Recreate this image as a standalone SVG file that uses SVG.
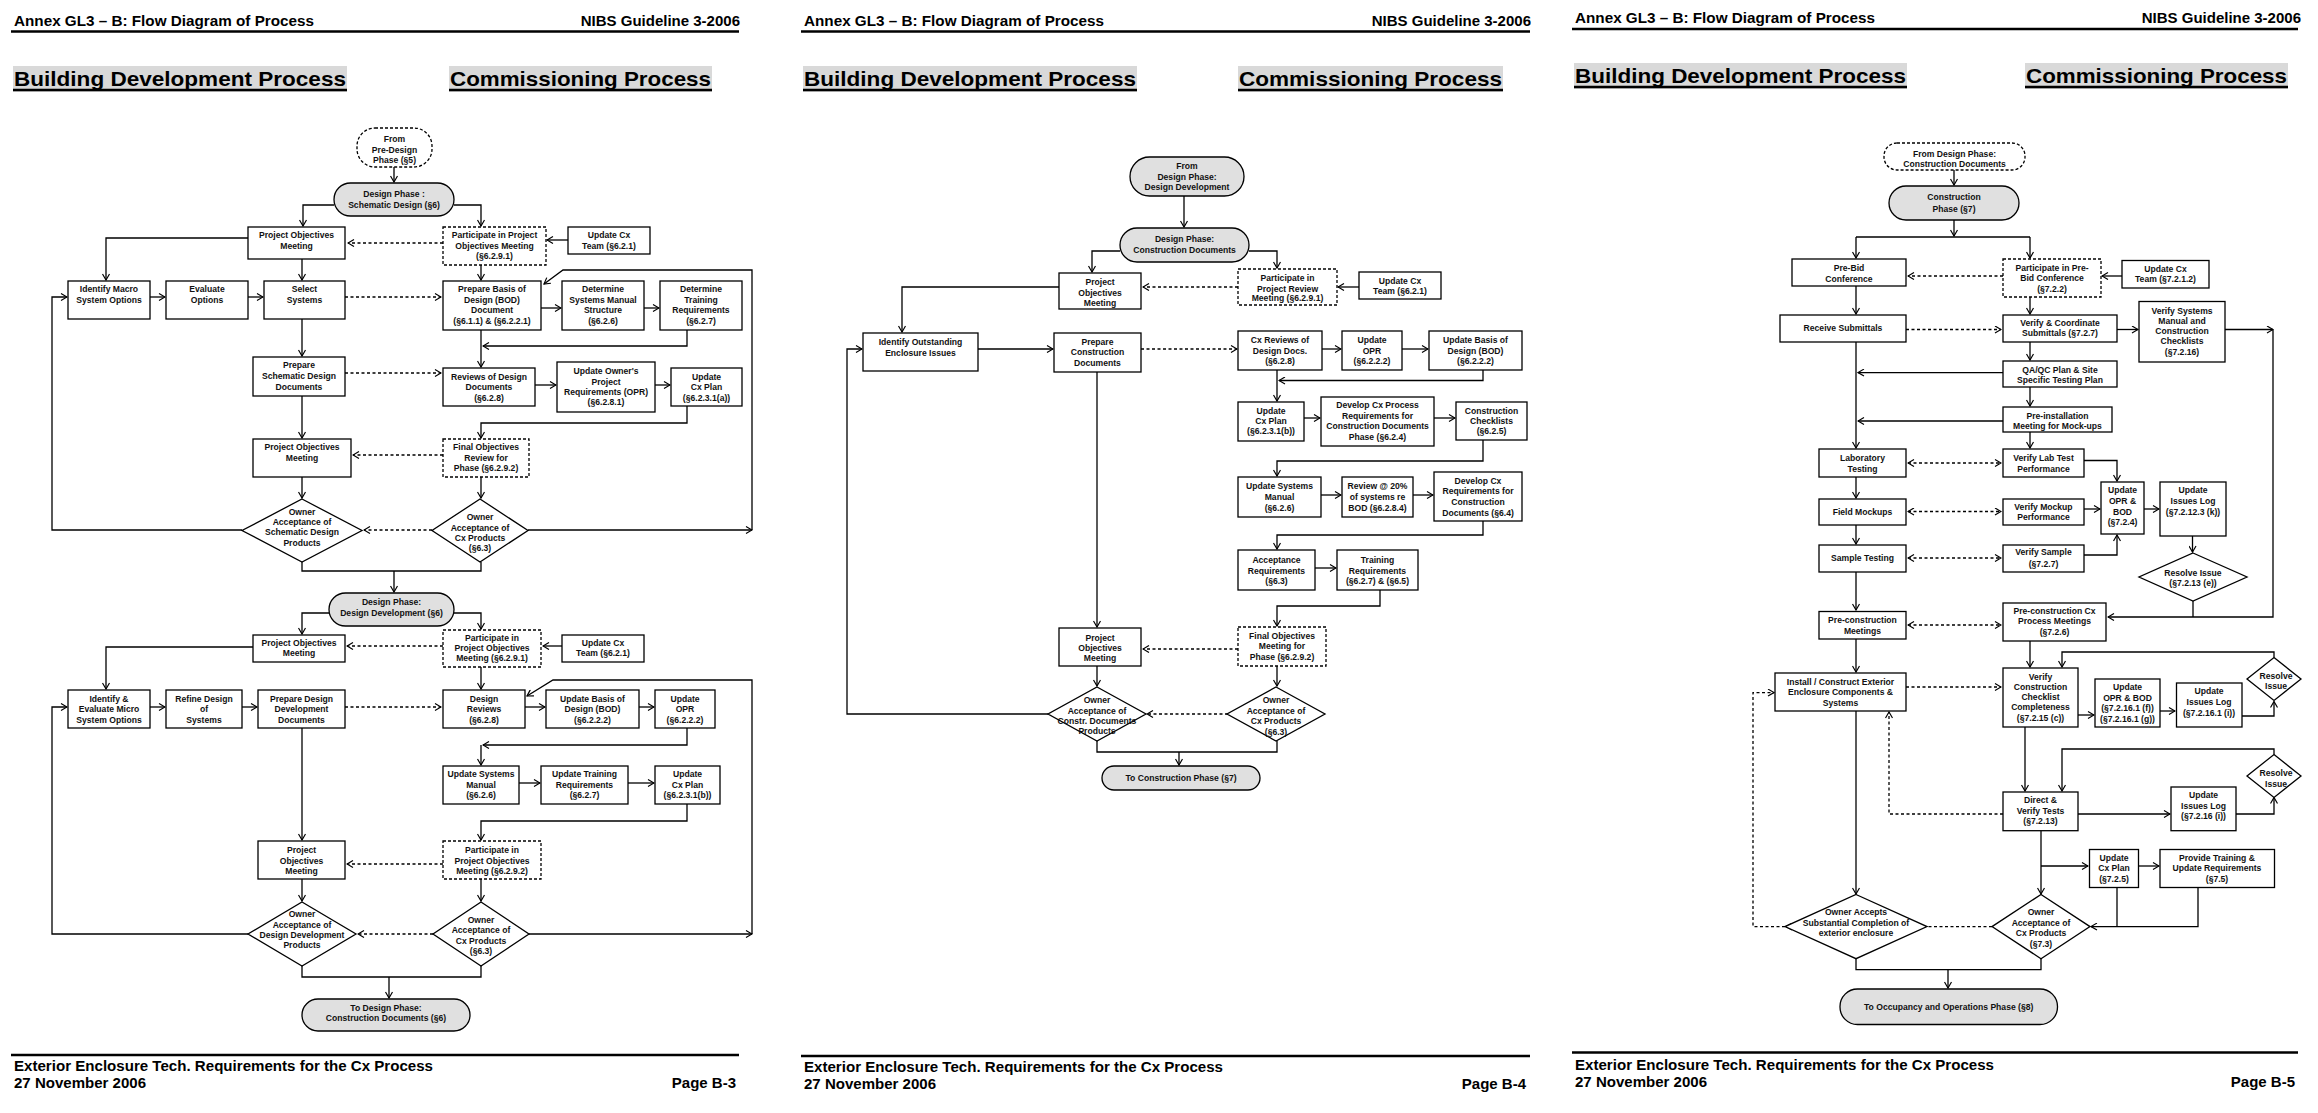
<svg xmlns="http://www.w3.org/2000/svg" width="2318" height="1113" viewBox="0 0 2318 1113">
<defs>
<marker id="a" markerWidth="8" markerHeight="8" refX="7" refY="4" orient="auto-start-reverse" markerUnits="userSpaceOnUse"><path d="M1,0.5 L7,4 L1,7.5" fill="none" stroke="#000" stroke-width="1.2"/></marker>
<style>
.n{fill:#fff;stroke:#000;stroke-width:1.3}
.d{fill:#fff;stroke:#000;stroke-width:1.3;stroke-dasharray:3,2}
.g{fill:#e0e0e0;stroke:#000;stroke-width:1.3}
.t{font-family:"Liberation Sans Narrow","Liberation Sans",Arial,sans-serif;font-weight:bold;font-size:8.6px;text-anchor:middle;fill:#111}
.c path{fill:none;stroke:#000;stroke-width:1.3;marker-end:url(#a)}
.c path.k{stroke-dasharray:3,2.5}
.c path.b{marker-start:url(#a)}
.c path.x{marker-end:none}
.h{font-family:"Liberation Sans Narrow","Liberation Sans",Arial,sans-serif;font-weight:bold;font-size:15px;fill:#000}
.T{font-family:"Liberation Sans",Arial,sans-serif;font-weight:bold;font-size:21px;fill:#000}
.hl{stroke:#000;stroke-width:2.5}
.tb{fill:#d9d9d9}
</style>
</defs>
<rect width="2318" height="1113" fill="#fff"/>

<g id="headers">
<text class="h" x="14" y="26" textLength="300" lengthAdjust="spacingAndGlyphs">Annex GL3 – B:  Flow Diagram of Process</text>
<text class="h" x="740" y="26" text-anchor="end">NIBS Guideline 3-2006</text>
<line class="hl" x1="11" y1="31.5" x2="739" y2="31.5"/>
<rect class="tb" x="13" y="66" width="334" height="26"/><text class="T" x="14" y="86" textLength="332" lengthAdjust="spacingAndGlyphs">Building Development Process</text><line class="hl" x1="13" y1="90" x2="347" y2="90"/>
<rect class="tb" x="449" y="66" width="263" height="26"/><text class="T" x="450" y="86" textLength="261" lengthAdjust="spacingAndGlyphs">Commissioning Process</text><line class="hl" x1="449" y1="90" x2="712" y2="90"/>
<line class="hl" x1="11" y1="1055" x2="739" y2="1055"/>
<text class="h" x="14" y="1071" textLength="419" lengthAdjust="spacingAndGlyphs">Exterior Enclosure Tech. Requirements for the Cx Process</text>
<text class="h" x="14" y="1088" textLength="132" lengthAdjust="spacingAndGlyphs">27 November 2006</text>
<text class="h" x="736" y="1088" text-anchor="end">Page B-3</text>

<text class="h" x="804" y="26" textLength="300" lengthAdjust="spacingAndGlyphs">Annex GL3 – B:  Flow Diagram of Process</text>
<text class="h" x="1531" y="26" text-anchor="end">NIBS Guideline 3-2006</text>
<line class="hl" x1="801" y1="31.5" x2="1530" y2="31.5"/>
<rect class="tb" x="803" y="66" width="334" height="26"/><text class="T" x="804" y="86" textLength="332" lengthAdjust="spacingAndGlyphs">Building Development Process</text><line class="hl" x1="803" y1="90" x2="1137" y2="90"/>
<rect class="tb" x="1238" y="66" width="265" height="26"/><text class="T" x="1239" y="86" textLength="263" lengthAdjust="spacingAndGlyphs">Commissioning Process</text><line class="hl" x1="1238" y1="90" x2="1503" y2="90"/>
<line class="hl" x1="801" y1="1056" x2="1530" y2="1056"/>
<text class="h" x="804" y="1072" textLength="419" lengthAdjust="spacingAndGlyphs">Exterior Enclosure Tech. Requirements for the Cx Process</text>
<text class="h" x="804" y="1089" textLength="132" lengthAdjust="spacingAndGlyphs">27 November 2006</text>
<text class="h" x="1526" y="1089" text-anchor="end">Page B-4</text>

<text class="h" x="1575" y="23" textLength="300" lengthAdjust="spacingAndGlyphs">Annex GL3 – B:  Flow Diagram of Process</text>
<text class="h" x="2301" y="23" text-anchor="end">NIBS Guideline 3-2006</text>
<line class="hl" x1="1572" y1="29" x2="2298" y2="29"/>
<rect class="tb" x="1574" y="63" width="333" height="26"/><text class="T" x="1575" y="83" textLength="331" lengthAdjust="spacingAndGlyphs">Building Development Process</text><line class="hl" x1="1574" y1="87" x2="1907" y2="87"/>
<rect class="tb" x="2025" y="63" width="263" height="26"/><text class="T" x="2026" y="83" textLength="261" lengthAdjust="spacingAndGlyphs">Commissioning Process</text><line class="hl" x1="2025" y1="87" x2="2288" y2="87"/>
<line class="hl" x1="1572" y1="1052.5" x2="2298" y2="1052.5"/>
<text class="h" x="1575" y="1069.5" textLength="419" lengthAdjust="spacingAndGlyphs">Exterior Enclosure Tech. Requirements for the Cx Process</text>
<text class="h" x="1575" y="1087" textLength="132" lengthAdjust="spacingAndGlyphs">27 November 2006</text>
<text class="h" x="2295" y="1087" text-anchor="end">Page B-5</text>
</g>

<g id="connectors" class="c">
<path d="M394,167 V182"/>
<path d="M334,205 H303 V226"/>
<path d="M454,205 H481 V226"/>
<path d="M568,240 H547"/>
<path class="k" d="M443,243 H348"/>
<path d="M248,238 H106 V280"/>
<path d="M302,259 V280"/>
<path d="M481,265 V280"/>
<path d="M150,297 H165"/><path d="M248,297 H263"/>
<path class="k" d="M345,297 H441"/>
<path d="M541,308 H561"/><path d="M644,308 H659"/>
<path d="M687,330 V346 H483"/>
<path d="M481,330 V367"/>
<path d="M302,319 V356"/>
<path class="k" d="M345,373 H441"/>
<path d="M535,385 H556"/><path d="M655,385 H670"/>
<path d="M687,406 V423 H481 V438"/>
<path d="M302,396 V438"/>
<path class="k" d="M443,455 H353"/>
<path d="M302,477 V498"/><path d="M481,477 V498"/>
<path class="k" d="M432,530 H364"/>
<path d="M242,530 H52 V297 H67"/>
<path d="M528,530 H752"/>
<path d="M752,530 V270 H563 L544,284"/>
<path class="x" d="M302,562 V571 H481 V562"/>
<path d="M394,571 V592"/>
<path d="M329,613 H302 V634"/>
<path d="M454,613 H481 V629"/>
<path d="M562,646 H543"/>
<path class="k" d="M443,646 H347"/>
<path d="M253,647 H106 V689"/>
<path d="M481,667 V689"/>
<path d="M150,707 H165"/><path d="M242,707 H257"/>
<path class="k" d="M345,707 H441"/>
<path d="M525,707 H545"/><path d="M639,707 H654"/>
<path d="M687,728 V745 H483"/>
<path d="M481,745 V765"/>
<path d="M519,783 H540"/><path d="M628,783 H654"/>
<path d="M687,804 V821 H481 V840"/>
<path d="M302,728 V840"/>
<path class="k" d="M443,864 H347"/>
<path d="M302,879 V901"/><path d="M481,879 V901"/>
<path class="k" d="M433,934 H358"/>
<path d="M248,934 H52 V707 H67"/>
<path d="M529,934 H752"/>
<path d="M752,934 V680 H553 L527,696"/>
<path class="x" d="M302,966 V977 H481 V966"/>
<path d="M389,977 V998"/>

<path d="M1184,196 V227"/>
<path d="M1120,251 H1092 V272"/>
<path d="M1249,251 H1277 V268"/>
<path d="M1359,287 H1338"/>
<path class="k" d="M1238,287 H1143"/>
<path d="M1059,287 H902 V332"/>
<path d="M978,349 H1053"/>
<path class="k" d="M1141,349 H1237"/>
<path d="M1322,349 H1341"/><path d="M1402,349 H1428"/>
<path d="M1483,370 V380.5 H1279"/>
<path d="M1277,370 V401"/>
<path d="M1304,418 H1320"/><path d="M1434,418 H1455"/>
<path d="M1483,440 V461 H1277 V476"/>
<path d="M1321,495 H1341"/><path d="M1413,495 H1433"/>
<path d="M1483,521 V535 H1277 V549"/>
<path d="M1315,568 H1336"/>
<path d="M1380,590 V606 H1277 V626"/>
<path d="M1097,372 V627"/>
<path class="k" d="M1238,649 H1143"/>
<path d="M1097,666 V686"/><path d="M1277,666 V686"/>
<path class="k" d="M1228,714 H1147"/>
<path d="M1048,714 H847 V349 H862"/>
<path class="x" d="M1097,741 V752 H1277 V741"/>
<path d="M1179,752 V765"/>

<path d="M1954,170 V185"/>
<path d="M1954,220 V236"/>
<path class="x" d="M1856,237 H2030"/>
<path d="M1856,237 V258"/><path d="M2030,237 V258"/>
<path d="M2122,276 H2102"/>
<path class="k" d="M2003,276 H1908"/>
<path d="M1856,286 V314"/>
<path d="M2030,297 V314"/>
<path class="k" d="M1906,329.5 H2001"/>
<path d="M2117,329.5 H2138"/>
<path d="M2225,329.5 H2273"/>
<path d="M2273,329.5 V617 H2108"/>
<path d="M2030,342 V360"/>
<path d="M2003,372.6 H1858"/>
<path d="M1856,342 V448"/>
<path d="M2030,387 V406"/>
<path d="M2003,421 H1858"/>
<path d="M2030,432 V448"/>
<path class="k b" d="M1908,463 H2001"/>
<path d="M2084,460.5 H2117 V481"/>
<path d="M1856,477 V498"/>
<path class="k b" d="M1908,511.5 H2001"/>
<path d="M2084,509 H2100"/>
<path d="M2144,509 H2159"/>
<path d="M1856,525 V544"/>
<path class="k b" d="M1908,558 H2001"/>
<path d="M2084,555 H2117 V535"/>
<path d="M2192.5,536 V552"/>
<path class="x" d="M2193,601 V617"/>
<path d="M1856,572 V610"/>
<path class="k b" d="M1908,625 H2001"/>
<path d="M1856,639 V672"/>
<path d="M2030,641 V667"/>
<path class="k" d="M1906,687 H2001"/>
<path d="M2078,715 H2094"/>
<path d="M2160,711 H2175"/>
<path d="M2242,716 H2274 V701.5"/>
<path d="M2274,657.5 V652 H2062 V667"/>
<path d="M2025,727 V791"/>
<path d="M2078,814 H2170"/>
<path d="M2236,814 H2274 V797.5"/>
<path d="M2274,754.5 V749 H2062 V791"/>
<path class="k" d="M2003,814 H1889 V712"/>
<path d="M2041,830.7 V894"/>
<path d="M2041,866 H2088"/>
<path d="M2138.6,866 H2159"/>
<path class="x" d="M2117,887.5 V926.6"/>
<path d="M2198,887.5 V926.6 H2091"/>
<path d="M1856,711 V894"/>
<path class="k" d="M1992,926.6 H1786"/>
<path class="k" d="M1785,926.6 H1753 V692.6 H1774"/>
<path class="x" d="M1856,958.6 V969.7 H2041 V958.6"/>
<path d="M1948,969.7 V988"/>
</g>

<!-- PAGE 1 -->
<g id="p1-from"><rect class="d" x="357" y="128" width="75" height="39" rx="18"/><text class="t"><tspan x="394.5" y="142">From</tspan><tspan x="394.5" y="153">Pre-Design</tspan><tspan x="394.5" y="163">Phase (§5)</tspan></text></g>
<g id="p1-sd"><rect class="g" x="334" y="183" width="120" height="33" rx="16.5"/><text class="t"><tspan x="394" y="197">Design Phase :</tspan><tspan x="394" y="208">Schematic Design  (§6)</tspan></text></g>
<g id="p1-pom1"><rect class="n" x="248" y="227" width="97" height="32"/><text class="t"><tspan x="296.5" y="238">Project Objectives</tspan><tspan x="296.5" y="249">Meeting</tspan></text></g>
<g id="p1-part1"><rect class="d" x="443" y="227" width="103" height="38"/><text class="t"><tspan x="494.5" y="238">Participate in Project</tspan><tspan x="494.5" y="248.5">Objectives Meeting</tspan><tspan x="494.5" y="259">(§6.2.9.1)</tspan></text></g>
<g id="p1-team1"><rect class="n" x="568" y="227" width="82" height="27"/><text class="t"><tspan x="609" y="238">Update Cx</tspan><tspan x="609" y="249">Team (§6.2.1)</tspan></text></g>
<g id="p1-macro"><rect class="n" x="68" y="281" width="82" height="38"/><text class="t"><tspan x="109" y="292">Identify Macro</tspan><tspan x="109" y="303">System Options</tspan></text></g>
<g id="p1-eval"><rect class="n" x="166" y="281" width="82" height="38"/><text class="t"><tspan x="207" y="292">Evaluate</tspan><tspan x="207" y="303">Options</tspan></text></g>
<g id="p1-select"><rect class="n" x="264" y="281" width="81" height="38"/><text class="t"><tspan x="304.5" y="292">Select</tspan><tspan x="304.5" y="303">Systems</tspan></text></g>
<g id="p1-bod"><rect class="n" x="443" y="281" width="98" height="49"/><text class="t"><tspan x="492" y="292">Prepare Basis of</tspan><tspan x="492" y="303">Design (BOD)</tspan><tspan x="492" y="313">Document</tspan><tspan x="492" y="324">(§6.1.1) &amp; (§6.2.2.1)</tspan></text></g>
<g id="p1-dsm"><rect class="n" x="562" y="281" width="82" height="49"/><text class="t"><tspan x="603" y="292">Determine</tspan><tspan x="603" y="303">Systems Manual</tspan><tspan x="603" y="313">Structure</tspan><tspan x="603" y="324">(§6.2.6)</tspan></text></g>
<g id="p1-dtr"><rect class="n" x="660" y="281" width="82" height="49"/><text class="t"><tspan x="701" y="292">Determine</tspan><tspan x="701" y="303">Training</tspan><tspan x="701" y="313">Requirements</tspan><tspan x="701" y="324">(§6.2.7)</tspan></text></g>
<g id="p1-psd"><rect class="n" x="253" y="357" width="92" height="39"/><text class="t"><tspan x="299" y="368">Prepare</tspan><tspan x="299" y="379">Schematic Design</tspan><tspan x="299" y="390">Documents</tspan></text></g>
<g id="p1-rev"><rect class="n" x="443" y="368" width="92" height="38"/><text class="t"><tspan x="489" y="380">Reviews of Design</tspan><tspan x="489" y="390">Documents</tspan><tspan x="489" y="401">(§6.2.8)</tspan></text></g>
<g id="p1-opr"><rect class="n" x="557" y="362" width="98" height="50"/><text class="t"><tspan x="606" y="374">Update Owner's</tspan><tspan x="606" y="385">Project</tspan><tspan x="606" y="395">Requirements (OPR)</tspan><tspan x="606" y="405">(§6.2.8.1)</tspan></text></g>
<g id="p1-cxp"><rect class="n" x="671" y="368" width="71" height="38"/><text class="t"><tspan x="706.5" y="380">Update</tspan><tspan x="706.5" y="390">Cx Plan</tspan><tspan x="706.5" y="401">(§6.2.3.1(a))</tspan></text></g>
<g id="p1-pom2"><rect class="n" x="253" y="439" width="98" height="38"/><text class="t"><tspan x="302" y="450">Project Objectives</tspan><tspan x="302" y="461">Meeting</tspan></text></g>
<g id="p1-final"><rect class="d" x="443" y="439" width="86" height="38"/><text class="t"><tspan x="486" y="450">Final Objectives</tspan><tspan x="486" y="461">Review for</tspan><tspan x="486" y="471">Phase (§6.2.9.2)</tspan></text></g>
<g id="p1-d1"><path class="n" d="M302,499 L362,530.5 L302,562 L242,530.5 Z"/><text class="t"><tspan x="302" y="515">Owner</tspan><tspan x="302" y="525">Acceptance of</tspan><tspan x="302" y="535">Schematic Design</tspan><tspan x="302" y="546">Products</tspan></text></g>
<g id="p1-d2"><path class="n" d="M480,499 L528,530.5 L480,562 L432,530.5 Z"/><text class="t"><tspan x="480" y="520">Owner</tspan><tspan x="480" y="531">Acceptance of</tspan><tspan x="480" y="541">Cx Products</tspan><tspan x="480" y="551">(§6.3)</tspan></text></g>
<g id="p1-dd"><rect class="g" x="329" y="593" width="125" height="33" rx="16.5"/><text class="t"><tspan x="391.5" y="605">Design Phase:</tspan><tspan x="391.5" y="616">Design Development  (§6)</tspan></text></g>
<g id="p1-pom3"><rect class="n" x="253" y="635" width="92" height="27"/><text class="t"><tspan x="299" y="646">Project Objectives</tspan><tspan x="299" y="656">Meeting</tspan></text></g>
<g id="p1-part2"><rect class="d" x="443" y="630" width="98" height="37"/><text class="t"><tspan x="492" y="641">Participate in</tspan><tspan x="492" y="651">Project Objectives</tspan><tspan x="492" y="661">Meeting (§6.2.9.1)</tspan></text></g>
<g id="p1-team2"><rect class="n" x="562" y="635" width="82" height="27"/><text class="t"><tspan x="603" y="646">Update Cx</tspan><tspan x="603" y="656">Team (§6.2.1)</tspan></text></g>
<g id="p1-micro"><rect class="n" x="68" y="690" width="82" height="38"/><text class="t"><tspan x="109" y="702">Identify &amp;</tspan><tspan x="109" y="712">Evaluate Micro</tspan><tspan x="109" y="723">System Options</tspan></text></g>
<g id="p1-refine"><rect class="n" x="166" y="690" width="76" height="38"/><text class="t"><tspan x="204" y="702">Refine Design</tspan><tspan x="204" y="712">of</tspan><tspan x="204" y="723">Systems</tspan></text></g>
<g id="p1-pdd"><rect class="n" x="258" y="690" width="87" height="38"/><text class="t"><tspan x="301.5" y="702">Prepare Design</tspan><tspan x="301.5" y="712">Development</tspan><tspan x="301.5" y="723">Documents</tspan></text></g>
<g id="p1-drev"><rect class="n" x="443" y="690" width="82" height="38"/><text class="t"><tspan x="484" y="702">Design</tspan><tspan x="484" y="712">Reviews</tspan><tspan x="484" y="723">(§6.2.8)</tspan></text></g>
<g id="p1-ubod"><rect class="n" x="546" y="690" width="93" height="38"/><text class="t"><tspan x="592.5" y="702">Update Basis of</tspan><tspan x="592.5" y="712">Design (BOD)</tspan><tspan x="592.5" y="723">(§6.2.2.2)</tspan></text></g>
<g id="p1-uopr"><rect class="n" x="655" y="690" width="60" height="38"/><text class="t"><tspan x="685" y="702">Update</tspan><tspan x="685" y="712">OPR</tspan><tspan x="685" y="723">(§6.2.2.2)</tspan></text></g>
<g id="p1-usm"><rect class="n" x="443" y="766" width="76" height="38"/><text class="t"><tspan x="481" y="777">Update Systems</tspan><tspan x="481" y="788">Manual</tspan><tspan x="481" y="798">(§6.2.6)</tspan></text></g>
<g id="p1-utr"><rect class="n" x="541" y="766" width="87" height="38"/><text class="t"><tspan x="584.5" y="777">Update Training</tspan><tspan x="584.5" y="788">Requirements</tspan><tspan x="584.5" y="798">(§6.2.7)</tspan></text></g>
<g id="p1-ucx"><rect class="n" x="655" y="766" width="65" height="38"/><text class="t"><tspan x="687.5" y="777">Update</tspan><tspan x="687.5" y="788">Cx Plan</tspan><tspan x="687.5" y="798">(§6.2.3.1(b))</tspan></text></g>
<g id="p1-pom4"><rect class="n" x="258" y="841" width="87" height="38"/><text class="t"><tspan x="301.5" y="853">Project</tspan><tspan x="301.5" y="864">Objectives</tspan><tspan x="301.5" y="874">Meeting</tspan></text></g>
<g id="p1-part3"><rect class="d" x="443" y="841" width="98" height="38"/><text class="t"><tspan x="492" y="853">Participate in</tspan><tspan x="492" y="864">Project Objectives</tspan><tspan x="492" y="874">Meeting (§6.2.9.2)</tspan></text></g>
<g id="p1-d3"><path class="n" d="M302,902 L356,934 L302,966 L248,934 Z"/><text class="t"><tspan x="302" y="917">Owner</tspan><tspan x="302" y="928">Acceptance of</tspan><tspan x="302" y="938">Design Development</tspan><tspan x="302" y="948">Products</tspan></text></g>
<g id="p1-d4"><path class="n" d="M481,902 L529,934 L481,966 L433,934 Z"/><text class="t"><tspan x="481" y="923">Owner</tspan><tspan x="481" y="933">Acceptance of</tspan><tspan x="481" y="944">Cx Products</tspan><tspan x="481" y="954">(§6.3)</tspan></text></g>
<g id="p1-to"><rect class="g" x="302" y="999" width="168" height="32" rx="16"/><text class="t"><tspan x="386" y="1011">To Design Phase:</tspan><tspan x="386" y="1021">Construction Documents  (§6)</tspan></text></g>

<!-- PAGE 2 -->
<g id="p2-from"><rect class="g" x="1130" y="157" width="114" height="39" rx="19.5"/><text class="t"><tspan x="1187" y="169">From</tspan><tspan x="1187" y="180">Design Phase:</tspan><tspan x="1187" y="190">Design Development</tspan></text></g>
<g id="p2-cd"><rect class="g" x="1120" y="228" width="129" height="34" rx="17"/><text class="t"><tspan x="1184.5" y="242">Design Phase:</tspan><tspan x="1184.5" y="253">Construction Documents</tspan></text></g>
<g id="p2-pom1"><rect class="n" x="1059" y="273" width="82" height="36"/><text class="t"><tspan x="1100" y="285">Project</tspan><tspan x="1100" y="295.5">Objectives</tspan><tspan x="1100" y="306">Meeting</tspan></text></g>
<g id="p2-part"><rect class="d" x="1238" y="269" width="99" height="36"/><text class="t"><tspan x="1287.5" y="281">Participate in</tspan><tspan x="1287.5" y="292">Project Review</tspan><tspan x="1287.5" y="301">Meeting (§6.2.9.1)</tspan></text></g>
<g id="p2-team"><rect class="n" x="1359" y="272" width="82" height="27"/><text class="t"><tspan x="1400" y="284">Update Cx</tspan><tspan x="1400" y="294">Team (§6.2.1)</tspan></text></g>
<g id="p2-ident"><rect class="n" x="863" y="333" width="115" height="38"/><text class="t"><tspan x="920.5" y="345">Identify Outstanding</tspan><tspan x="920.5" y="356">Enclosure Issues</tspan></text></g>
<g id="p2-prep"><rect class="n" x="1054" y="333" width="87" height="39"/><text class="t"><tspan x="1097.5" y="345">Prepare</tspan><tspan x="1097.5" y="355">Construction</tspan><tspan x="1097.5" y="366">Documents</tspan></text></g>
<g id="p2-cxr"><rect class="n" x="1238" y="331" width="84" height="39"/><text class="t"><tspan x="1280" y="343">Cx Reviews of</tspan><tspan x="1280" y="354">Design Docs.</tspan><tspan x="1280" y="364">(§6.2.8)</tspan></text></g>
<g id="p2-opr"><rect class="n" x="1342" y="331" width="60" height="39"/><text class="t"><tspan x="1372" y="343">Update</tspan><tspan x="1372" y="354">OPR</tspan><tspan x="1372" y="364">(§6.2.2.2)</tspan></text></g>
<g id="p2-bod"><rect class="n" x="1429" y="331" width="93" height="39"/><text class="t"><tspan x="1475.5" y="343">Update Basis of</tspan><tspan x="1475.5" y="354">Design (BOD)</tspan><tspan x="1475.5" y="364">(§6.2.2.2)</tspan></text></g>
<g id="p2-cxp"><rect class="n" x="1238" y="402" width="66" height="39"/><text class="t"><tspan x="1271" y="414">Update</tspan><tspan x="1271" y="424">Cx Plan</tspan><tspan x="1271" y="434">(§6.2.3.1(b))</tspan></text></g>
<g id="p2-dev"><rect class="n" x="1321" y="397" width="113" height="49"/><text class="t"><tspan x="1377.5" y="408">Develop Cx Process</tspan><tspan x="1377.5" y="419">Requirements for</tspan><tspan x="1377.5" y="429">Construction Documents</tspan><tspan x="1377.5" y="439.5">Phase (§6.2.4)</tspan></text></g>
<g id="p2-chk"><rect class="n" x="1456" y="402" width="71" height="38"/><text class="t"><tspan x="1491.5" y="414">Construction</tspan><tspan x="1491.5" y="424">Checklists</tspan><tspan x="1491.5" y="434">(§6.2.5)</tspan></text></g>
<g id="p2-usm"><rect class="n" x="1238" y="477" width="83" height="40"/><text class="t"><tspan x="1279.5" y="489">Update Systems</tspan><tspan x="1279.5" y="500">Manual</tspan><tspan x="1279.5" y="511">(§6.2.6)</tspan></text></g>
<g id="p2-rev20"><rect class="n" x="1342" y="477" width="71" height="40"/><text class="t"><tspan x="1377.5" y="489">Review @ 20%</tspan><tspan x="1377.5" y="500">of systems re</tspan><tspan x="1377.5" y="511">BOD  (§6.2.8.4)</tspan></text></g>
<g id="p2-devreq"><rect class="n" x="1434" y="472" width="88" height="49"/><text class="t"><tspan x="1478" y="484">Develop Cx</tspan><tspan x="1478" y="494">Requirements for</tspan><tspan x="1478" y="505">Construction</tspan><tspan x="1478" y="515.5">Documents (§6.4)</tspan></text></g>
<g id="p2-acc"><rect class="n" x="1238" y="550" width="77" height="40"/><text class="t"><tspan x="1276.5" y="562.5">Acceptance</tspan><tspan x="1276.5" y="573.5">Requirements</tspan><tspan x="1276.5" y="584">(§6.3)</tspan></text></g>
<g id="p2-tr"><rect class="n" x="1337" y="550" width="81" height="40"/><text class="t"><tspan x="1377.5" y="562.5">Training</tspan><tspan x="1377.5" y="573.5">Requirements</tspan><tspan x="1377.5" y="584">(§6.2.7) &amp; (§6.5)</tspan></text></g>
<g id="p2-final"><rect class="d" x="1238" y="627" width="88" height="39"/><text class="t"><tspan x="1282" y="639">Final Objectives</tspan><tspan x="1282" y="649">Meeting for</tspan><tspan x="1282" y="659.5">Phase (§6.2.9.2)</tspan></text></g>
<g id="p2-pom2"><rect class="n" x="1059" y="628" width="82" height="38"/><text class="t"><tspan x="1100" y="641">Project</tspan><tspan x="1100" y="651">Objectives</tspan><tspan x="1100" y="661">Meeting</tspan></text></g>
<g id="p2-d1"><path class="n" d="M1097,687 L1146,714 L1097,741 L1048,714 Z"/><text class="t"><tspan x="1097" y="703">Owner</tspan><tspan x="1097" y="713.5">Acceptance of</tspan><tspan x="1097" y="724">Constr. Documents</tspan><tspan x="1097" y="734">Products</tspan></text></g>
<g id="p2-d2"><path class="n" d="M1276,687 L1325,714 L1276,741 L1227,714 Z"/><text class="t"><tspan x="1276" y="703">Owner</tspan><tspan x="1276" y="713.5">Acceptance of</tspan><tspan x="1276" y="724">Cx Products</tspan><tspan x="1276" y="735">(§6.3)</tspan></text></g>
<g id="p2-to"><rect class="g" x="1102" y="766" width="158" height="24" rx="12"/><text class="t"><tspan x="1181" y="781">To Construction Phase (§7)</tspan></text></g>

<!-- PAGE 3 -->
<g id="p3-from"><rect class="d" x="1884" y="143" width="141" height="27" rx="13"/><text class="t"><tspan x="1954.5" y="157">From Design Phase:</tspan><tspan x="1954.5" y="167">Construction Documents</tspan></text></g>
<g id="p3-cp"><rect class="g" x="1889" y="186" width="130" height="34" rx="17"/><text class="t"><tspan x="1954" y="200">Construction</tspan><tspan x="1954" y="211.5">Phase  (§7)</tspan></text></g>
<g id="p3-prebid"><rect class="n" x="1792" y="259" width="114" height="27"/><text class="t"><tspan x="1849" y="271">Pre-Bid</tspan><tspan x="1849" y="281.5">Conference</tspan></text></g>
<g id="p3-part"><rect class="d" x="2003" y="259" width="98" height="38"/><text class="t"><tspan x="2052" y="271">Participate in Pre-</tspan><tspan x="2052" y="281">Bid Conference</tspan><tspan x="2052" y="291.5">(§7.2.2)</tspan></text></g>
<g id="p3-team"><rect class="n" x="2122" y="260.5" width="87" height="27.5"/><text class="t"><tspan x="2165.5" y="272">Update Cx</tspan><tspan x="2165.5" y="282">Team (§7.2.1.2)</tspan></text></g>
<g id="p3-recv"><rect class="n" x="1780" y="315" width="126" height="27"/><text class="t"><tspan x="1843" y="330.5">Receive Submittals</tspan></text></g>
<g id="p3-vcs"><rect class="n" x="2003" y="315" width="114" height="27"/><text class="t"><tspan x="2060" y="326">Verify &amp; Coordinate</tspan><tspan x="2060" y="336">Submittals (§7.2.7)</tspan></text></g>
<g id="p3-vsm"><rect class="n" x="2139" y="301.5" width="86" height="60.5"/><text class="t"><tspan x="2182" y="313.5">Verify Systems</tspan><tspan x="2182" y="324">Manual and</tspan><tspan x="2182" y="333.5">Construction</tspan><tspan x="2182" y="344">Checklists</tspan><tspan x="2182" y="355">(§7.2.16)</tspan></text></g>
<g id="p3-qa"><rect class="n" x="2003" y="361" width="114" height="26"/><text class="t"><tspan x="2060" y="373">QA/QC Plan &amp; Site</tspan><tspan x="2060" y="383">Specific Testing Plan</tspan></text></g>
<g id="p3-preinst"><rect class="n" x="2003" y="407" width="109" height="25"/><text class="t"><tspan x="2057.5" y="418.5">Pre-installation</tspan><tspan x="2057.5" y="429">Meeting for Mock-ups</tspan></text></g>
<g id="p3-lab"><rect class="n" x="1819" y="449" width="87" height="28"/><text class="t"><tspan x="1862.5" y="461">Laboratory</tspan><tspan x="1862.5" y="472">Testing</tspan></text></g>
<g id="p3-vlab"><rect class="n" x="2003" y="449" width="81" height="28"/><text class="t"><tspan x="2043.5" y="461">Verify Lab Test</tspan><tspan x="2043.5" y="472">Performance</tspan></text></g>
<g id="p3-uopr"><rect class="n" x="2101" y="482" width="43" height="52"/><text class="t"><tspan x="2122.5" y="493">Update</tspan><tspan x="2122.5" y="504">OPR &amp;</tspan><tspan x="2122.5" y="514.5">BOD</tspan><tspan x="2122.5" y="525">(§7.2.4)</tspan></text></g>
<g id="p3-ulog"><rect class="n" x="2160" y="482" width="66" height="54"/><text class="t"><tspan x="2193" y="493">Update</tspan><tspan x="2193" y="504">Issues Log</tspan><tspan x="2193" y="514.5">(§7.2.12.3 (k))</tspan></text></g>
<g id="p3-field"><rect class="n" x="1819" y="499" width="87" height="26"/><text class="t"><tspan x="1862.5" y="515">Field Mockups</tspan></text></g>
<g id="p3-vmock"><rect class="n" x="2003" y="499" width="81" height="26"/><text class="t"><tspan x="2043.5" y="510">Verify Mockup</tspan><tspan x="2043.5" y="520">Performance</tspan></text></g>
<g id="p3-sample"><rect class="n" x="1819" y="545" width="87" height="27"/><text class="t"><tspan x="1862.5" y="561">Sample Testing</tspan></text></g>
<g id="p3-vsample"><rect class="n" x="2003" y="545" width="81" height="27"/><text class="t"><tspan x="2043.5" y="555">Verify Sample</tspan><tspan x="2043.5" y="567">(§7.2.7)</tspan></text></g>
<g id="p3-res1"><path class="n" d="M2193,553 L2247,577 L2193,601 L2139,577 Z"/><text class="t"><tspan x="2193" y="575.5">Resolve Issue</tspan><tspan x="2193" y="586">(§7.2.13 (e))</tspan></text></g>
<g id="p3-precx"><rect class="n" x="2003" y="603" width="103" height="38"/><text class="t"><tspan x="2054.5" y="614">Pre-construction Cx</tspan><tspan x="2054.5" y="624">Process Meetings</tspan><tspan x="2054.5" y="635">(§7.2.6)</tspan></text></g>
<g id="p3-premt"><rect class="n" x="1819" y="611.5" width="87" height="27.5"/><text class="t"><tspan x="1862.5" y="623">Pre-construction</tspan><tspan x="1862.5" y="634">Meetings</tspan></text></g>
<g id="p3-install"><rect class="n" x="1775" y="673" width="131" height="38"/><text class="t"><tspan x="1840.5" y="684.5">Install / Construct Exterior</tspan><tspan x="1840.5" y="695">Enclosure Components  &amp;</tspan><tspan x="1840.5" y="706">Systems</tspan></text></g>
<g id="p3-vcc"><rect class="n" x="2003" y="668" width="75" height="59"/><text class="t"><tspan x="2040.5" y="679.5">Verify</tspan><tspan x="2040.5" y="689.7">Construction</tspan><tspan x="2040.5" y="700">Checklist</tspan><tspan x="2040.5" y="710.4">Completeness</tspan><tspan x="2040.5" y="721">(§7.2.15 (c))</tspan></text></g>
<g id="p3-uob"><rect class="n" x="2095" y="679" width="65" height="48"/><text class="t"><tspan x="2127.5" y="690">Update</tspan><tspan x="2127.5" y="700.6">OPR &amp; BOD</tspan><tspan x="2127.5" y="711">(§7.2.16.1 (f))</tspan><tspan x="2127.5" y="722">(§7.2.16.1 (g))</tspan></text></g>
<g id="p3-ulog2"><rect class="n" x="2176.5" y="683" width="65.5" height="44"/><text class="t"><tspan x="2209" y="694">Update</tspan><tspan x="2209" y="705">Issues Log</tspan><tspan x="2209" y="715.5">(§7.2.16.1 (i))</tspan></text></g>
<g id="p3-res2"><path class="n" d="M2274,657.5 L2301,679 L2274,700.5 L2247,679 Z"/><text class="t"><tspan x="2276" y="678.7">Resolve</tspan><tspan x="2276" y="689.3">Issue</tspan></text></g>
<g id="p3-dvt"><rect class="n" x="2003" y="792" width="75" height="38.7"/><text class="t"><tspan x="2040.5" y="803">Direct &amp;</tspan><tspan x="2040.5" y="814">Verify Tests</tspan><tspan x="2040.5" y="824">(§7.2.13)</tspan></text></g>
<g id="p3-ulog3"><rect class="n" x="2171" y="787" width="65" height="43.7"/><text class="t"><tspan x="2203.5" y="798">Update</tspan><tspan x="2203.5" y="808.7">Issues Log</tspan><tspan x="2203.5" y="819">(§7.2.16 (i))</tspan></text></g>
<g id="p3-res3"><path class="n" d="M2274,754.5 L2301,776 L2274,797.5 L2247,776 Z"/><text class="t"><tspan x="2276" y="776">Resolve</tspan><tspan x="2276" y="787">Issue</tspan></text></g>
<g id="p3-ucx"><rect class="n" x="2089.5" y="849.5" width="49" height="38"/><text class="t"><tspan x="2114" y="861">Update</tspan><tspan x="2114" y="871">Cx Plan</tspan><tspan x="2114" y="882">(§7.2.5)</tspan></text></g>
<g id="p3-ptr"><rect class="n" x="2160" y="849.5" width="114.5" height="38"/><text class="t"><tspan x="2217" y="861">Provide Training &amp;</tspan><tspan x="2217" y="871">Update Requirements</tspan><tspan x="2217" y="882">(§7.5)</tspan></text></g>
<g id="p3-d1"><path class="n" d="M1856,894.5 L1927,926.6 L1856,958.7 L1785,926.6 Z"/><text class="t"><tspan x="1856" y="915">Owner Accepts</tspan><tspan x="1856" y="925.7">Substantial Completion of</tspan><tspan x="1856" y="936">exterior enclosure</tspan></text></g>
<g id="p3-d2"><path class="n" d="M2041,894.5 L2090,926.6 L2041,958.7 L1992,926.6 Z"/><text class="t"><tspan x="2041" y="915">Owner</tspan><tspan x="2041" y="925.7">Acceptance of</tspan><tspan x="2041" y="936">Cx Products</tspan><tspan x="2041" y="947">(§7.3)</tspan></text></g>
<g id="p3-to"><rect class="g" x="1840" y="989" width="217.5" height="35.5" rx="17.5"/><text class="t"><tspan x="1948.7" y="1010">To Occupancy and Operations Phase (§8)</tspan></text></g>
</svg>
